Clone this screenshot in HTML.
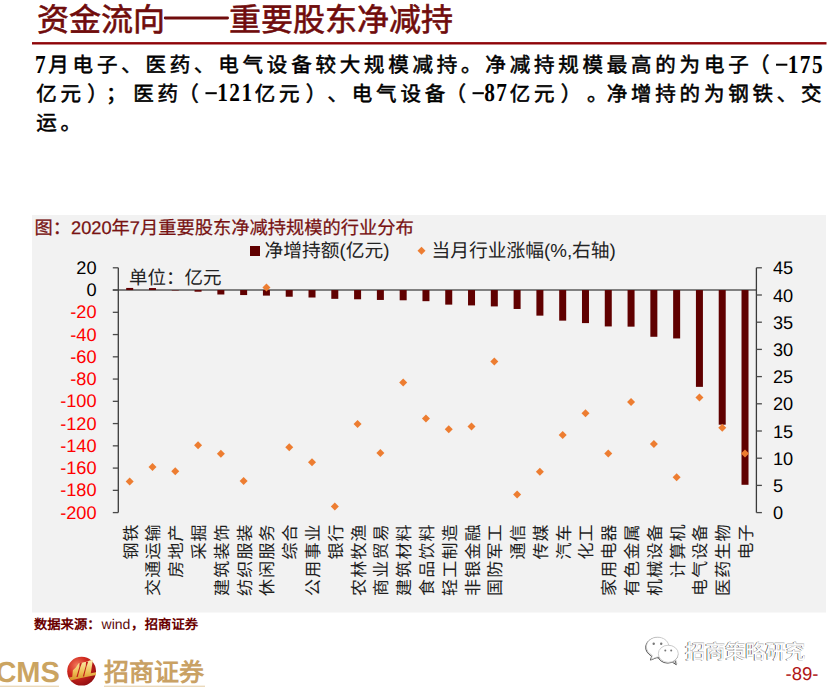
<!DOCTYPE html>
<html lang="zh-CN"><head><meta charset="utf-8">
<style>
html,body{margin:0;padding:0;background:#fff;}
body{width:831px;height:687px;overflow:hidden;position:relative;font-family:"Liberation Sans",sans-serif;}
svg{position:absolute;left:0;top:0;}

</style></head><body>
<svg width="831" height="687" viewBox="0 0 831 687" text-rendering="geometricPrecision">
<g fill="#700c0c" stroke="#700c0c" stroke-width="0.6"><text x="37" y="30.8" font-size="32">资金流向</text>
<text x="229" y="30.8" font-size="32">重要股东净减持</text></g>
<rect x="163.8" y="16.5" width="65.2" height="3" rx="1.4" fill="#700c0c"/>
<rect x="32" y="42.1" width="794.5" height="2.4" fill="#8e0508"/>
<text x="48.33 72.61 96.89 121.17 145.45 169.73 194.01 218.29 242.57 266.85 291.13 315.41 339.69 363.97 388.25 412.53 436.81 461.09 485.37 509.65 533.93 558.21 582.49 606.77 631.05 655.33 679.61 703.89 728.17 748.95" y="71.8" font-size="20.5" font-weight="normal" fill="#000" stroke="#000" stroke-width="0.55">月电子、医药、电气设备较大规模减持。净减持规模最高的为电子（</text>
<text transform="translate(35.04 72.7) scale(0.82 1)" x="0.00" y="0" font-size="26" font-weight="bold" fill="#000" font-family="Liberation Serif, serif">7</text>
<text transform="translate(787.72 72.7) scale(0.82 1)" x="0.00 14.80 29.61" y="0" font-size="26" font-weight="bold" fill="#000" font-family="Liberation Serif, serif">175</text>
<rect x="776.04" y="63.70" width="11.3" height="2" fill="#000"/>
<text x="36.19 60.47 87.25 106.03 133.31 157.59 178.37 254.71 278.99 305.77 327.55 351.83 376.11 400.39 424.67 445.45 509.65 533.93 560.71 586.99 606.77 631.05 655.33 679.61 703.89 728.17 752.45 776.73 801.01" y="101" font-size="20.5" font-weight="normal" fill="#000" stroke="#000" stroke-width="0.55">亿元）；医药（亿元）、电气设备（亿元）。净增持的为钢铁、交</text>
<text transform="translate(217.14 101.2) scale(0.82 1)" x="0.00 14.80 29.61" y="0" font-size="26" font-weight="bold" fill="#000" font-family="Liberation Serif, serif">121</text>
<text transform="translate(484.22 101.2) scale(0.82 1)" x="0.00 14.80" y="0" font-size="26" font-weight="bold" fill="#000" font-family="Liberation Serif, serif">87</text>
<rect x="205.46" y="92.20" width="11.3" height="2" fill="#000"/>
<rect x="472.54" y="92.20" width="11.3" height="2" fill="#000"/>
<text x="36.19 60.47" y="129.6" font-size="20.5" font-weight="normal" fill="#000" stroke="#000" stroke-width="0.55">运。</text>
<rect x="32" y="215" width="794" height="397.5" fill="#f2f2f2"/>
<text x="34.5" y="234.3" font-size="18.25" fill="#781212" stroke="#781212" stroke-width="0.25" font-family="Liberation Sans, sans-serif">图：2020年7月重要股东净减持规模的行业分布</text>
<rect x="250" y="246" width="10" height="10" fill="#600000"/>
<text x="264.5" y="256.5" font-size="18.75" fill="#222">净增持额(亿元)</text>
<path d="M421.5 246.8 L425.5 250.8 L421.5 254.8 L417.5 250.8Z" fill="#ed7d31"/>
<text x="431.5" y="256.5" font-size="18.75" fill="#222">当月行业涨幅(%,右轴)</text>
<text x="129" y="283.5" font-size="18.5" fill="#222">单位：亿元</text>
<line x1="112.8" y1="290.05" x2="756.4" y2="290.05" stroke="#5a5a5a" stroke-width="1.4"/>
<line x1="118.3" y1="267.80" x2="118.3" y2="512.60" stroke="#3a3a3a" stroke-width="1.3"/>
<line x1="756.4" y1="267.80" x2="756.4" y2="512.60" stroke="#3a3a3a" stroke-width="1.3"/>
<line x1="112.8" y1="267.80" x2="118.3" y2="267.80" stroke="#4a4a4a" stroke-width="1.3"/>
<text x="96.6" y="273.90" font-size="18.2" text-anchor="end" fill="#000">20</text>
<line x1="112.8" y1="290.05" x2="118.3" y2="290.05" stroke="#4a4a4a" stroke-width="1.3"/>
<text x="96.6" y="296.15" font-size="18.2" text-anchor="end" fill="#000">0</text>
<line x1="112.8" y1="312.31" x2="118.3" y2="312.31" stroke="#4a4a4a" stroke-width="1.3"/>
<text x="96.6" y="318.41" font-size="18.2" text-anchor="end" fill="#ff0000">-20</text>
<line x1="112.8" y1="334.56" x2="118.3" y2="334.56" stroke="#4a4a4a" stroke-width="1.3"/>
<text x="96.6" y="340.66" font-size="18.2" text-anchor="end" fill="#ff0000">-40</text>
<line x1="112.8" y1="356.82" x2="118.3" y2="356.82" stroke="#4a4a4a" stroke-width="1.3"/>
<text x="96.6" y="362.92" font-size="18.2" text-anchor="end" fill="#ff0000">-60</text>
<line x1="112.8" y1="379.07" x2="118.3" y2="379.07" stroke="#4a4a4a" stroke-width="1.3"/>
<text x="96.6" y="385.17" font-size="18.2" text-anchor="end" fill="#ff0000">-80</text>
<line x1="112.8" y1="401.33" x2="118.3" y2="401.33" stroke="#4a4a4a" stroke-width="1.3"/>
<text x="96.6" y="407.43" font-size="18.2" text-anchor="end" fill="#ff0000">-100</text>
<line x1="112.8" y1="423.58" x2="118.3" y2="423.58" stroke="#4a4a4a" stroke-width="1.3"/>
<text x="96.6" y="429.68" font-size="18.2" text-anchor="end" fill="#ff0000">-120</text>
<line x1="112.8" y1="445.84" x2="118.3" y2="445.84" stroke="#4a4a4a" stroke-width="1.3"/>
<text x="96.6" y="451.94" font-size="18.2" text-anchor="end" fill="#ff0000">-140</text>
<line x1="112.8" y1="468.09" x2="118.3" y2="468.09" stroke="#4a4a4a" stroke-width="1.3"/>
<text x="96.6" y="474.19" font-size="18.2" text-anchor="end" fill="#ff0000">-160</text>
<line x1="112.8" y1="490.35" x2="118.3" y2="490.35" stroke="#4a4a4a" stroke-width="1.3"/>
<text x="96.6" y="496.45" font-size="18.2" text-anchor="end" fill="#ff0000">-180</text>
<line x1="112.8" y1="512.60" x2="118.3" y2="512.60" stroke="#4a4a4a" stroke-width="1.3"/>
<text x="96.6" y="518.70" font-size="18.2" text-anchor="end" fill="#ff0000">-200</text>
<line x1="756.4" y1="267.80" x2="761.9" y2="267.80" stroke="#4a4a4a" stroke-width="1.3"/>
<text x="773" y="274.30" font-size="18.2" fill="#000">45</text>
<line x1="756.4" y1="295.00" x2="761.9" y2="295.00" stroke="#4a4a4a" stroke-width="1.3"/>
<text x="773" y="301.50" font-size="18.2" fill="#000">40</text>
<line x1="756.4" y1="322.20" x2="761.9" y2="322.20" stroke="#4a4a4a" stroke-width="1.3"/>
<text x="773" y="328.70" font-size="18.2" fill="#000">35</text>
<line x1="756.4" y1="349.40" x2="761.9" y2="349.40" stroke="#4a4a4a" stroke-width="1.3"/>
<text x="773" y="355.90" font-size="18.2" fill="#000">30</text>
<line x1="756.4" y1="376.60" x2="761.9" y2="376.60" stroke="#4a4a4a" stroke-width="1.3"/>
<text x="773" y="383.10" font-size="18.2" fill="#000">25</text>
<line x1="756.4" y1="403.80" x2="761.9" y2="403.80" stroke="#4a4a4a" stroke-width="1.3"/>
<text x="773" y="410.30" font-size="18.2" fill="#000">20</text>
<line x1="756.4" y1="431.00" x2="761.9" y2="431.00" stroke="#4a4a4a" stroke-width="1.3"/>
<text x="773" y="437.50" font-size="18.2" fill="#000">15</text>
<line x1="756.4" y1="458.20" x2="761.9" y2="458.20" stroke="#4a4a4a" stroke-width="1.3"/>
<text x="773" y="464.70" font-size="18.2" fill="#000">10</text>
<line x1="756.4" y1="485.40" x2="761.9" y2="485.40" stroke="#4a4a4a" stroke-width="1.3"/>
<text x="773" y="491.90" font-size="18.2" fill="#000">5</text>
<line x1="756.4" y1="512.60" x2="761.9" y2="512.60" stroke="#4a4a4a" stroke-width="1.3"/>
<text x="773" y="519.10" font-size="18.2" fill="#000">0</text>
<rect x="126.19" y="287.94" width="7.0" height="2.11" fill="#600000"/>
<rect x="148.98" y="288.05" width="7.0" height="2.00" fill="#600000"/>
<rect x="171.77" y="290.05" width="7.0" height="0.45" fill="#600000"/>
<rect x="194.56" y="290.05" width="7.0" height="1.67" fill="#600000"/>
<rect x="217.35" y="290.05" width="7.0" height="4.45" fill="#600000"/>
<rect x="240.14" y="290.05" width="7.0" height="5.01" fill="#600000"/>
<rect x="262.93" y="290.05" width="7.0" height="5.56" fill="#600000"/>
<rect x="285.72" y="290.05" width="7.0" height="6.68" fill="#600000"/>
<rect x="308.51" y="290.05" width="7.0" height="7.46" fill="#600000"/>
<rect x="331.30" y="290.05" width="7.0" height="8.79" fill="#600000"/>
<rect x="354.09" y="290.05" width="7.0" height="9.24" fill="#600000"/>
<rect x="376.88" y="290.05" width="7.0" height="9.90" fill="#600000"/>
<rect x="399.67" y="290.05" width="7.0" height="10.24" fill="#600000"/>
<rect x="422.46" y="290.05" width="7.0" height="11.13" fill="#600000"/>
<rect x="445.24" y="290.05" width="7.0" height="14.58" fill="#600000"/>
<rect x="468.03" y="290.05" width="7.0" height="15.36" fill="#600000"/>
<rect x="490.82" y="290.05" width="7.0" height="16.36" fill="#600000"/>
<rect x="513.61" y="290.05" width="7.0" height="18.92" fill="#600000"/>
<rect x="536.40" y="290.05" width="7.0" height="25.59" fill="#600000"/>
<rect x="559.19" y="290.05" width="7.0" height="30.60" fill="#600000"/>
<rect x="581.98" y="290.05" width="7.0" height="33.05" fill="#600000"/>
<rect x="604.77" y="290.05" width="7.0" height="36.39" fill="#600000"/>
<rect x="627.56" y="290.05" width="7.0" height="36.61" fill="#600000"/>
<rect x="650.35" y="290.05" width="7.0" height="46.73" fill="#600000"/>
<rect x="673.14" y="290.05" width="7.0" height="48.40" fill="#600000"/>
<rect x="695.93" y="290.05" width="7.0" height="96.81" fill="#600000"/>
<rect x="718.72" y="290.05" width="7.0" height="134.64" fill="#600000"/>
<rect x="741.51" y="290.05" width="7.0" height="194.73" fill="#600000"/>
<path d="M129.69 477.60 L133.69 481.60 L129.69 485.60 L125.69 481.60Z" fill="#ed7d31"/>
<path d="M152.48 463.00 L156.48 467.00 L152.48 471.00 L148.48 467.00Z" fill="#ed7d31"/>
<path d="M175.27 467.20 L179.27 471.20 L175.27 475.20 L171.27 471.20Z" fill="#ed7d31"/>
<path d="M198.06 441.20 L202.06 445.20 L198.06 449.20 L194.06 445.20Z" fill="#ed7d31"/>
<path d="M220.85 449.70 L224.85 453.70 L220.85 457.70 L216.85 453.70Z" fill="#ed7d31"/>
<path d="M243.64 477.00 L247.64 481.00 L243.64 485.00 L239.64 481.00Z" fill="#ed7d31"/>
<path d="M266.43 283.50 L270.43 287.50 L266.43 291.50 L262.43 287.50Z" fill="#ed7d31"/>
<path d="M289.22 443.20 L293.22 447.20 L289.22 451.20 L285.22 447.20Z" fill="#ed7d31"/>
<path d="M312.01 458.20 L316.01 462.20 L312.01 466.20 L308.01 462.20Z" fill="#ed7d31"/>
<path d="M334.80 502.50 L338.80 506.50 L334.80 510.50 L330.80 506.50Z" fill="#ed7d31"/>
<path d="M357.59 420.10 L361.59 424.10 L357.59 428.10 L353.59 424.10Z" fill="#ed7d31"/>
<path d="M380.38 448.90 L384.38 452.90 L380.38 456.90 L376.38 452.90Z" fill="#ed7d31"/>
<path d="M403.17 378.40 L407.17 382.40 L403.17 386.40 L399.17 382.40Z" fill="#ed7d31"/>
<path d="M425.96 414.50 L429.96 418.50 L425.96 422.50 L421.96 418.50Z" fill="#ed7d31"/>
<path d="M448.74 425.20 L452.74 429.20 L448.74 433.20 L444.74 429.20Z" fill="#ed7d31"/>
<path d="M471.53 422.40 L475.53 426.40 L471.53 430.40 L467.53 426.40Z" fill="#ed7d31"/>
<path d="M494.32 357.40 L498.32 361.40 L494.32 365.40 L490.32 361.40Z" fill="#ed7d31"/>
<path d="M517.11 490.40 L521.11 494.40 L517.11 498.40 L513.11 494.40Z" fill="#ed7d31"/>
<path d="M539.90 467.80 L543.90 471.80 L539.90 475.80 L535.90 471.80Z" fill="#ed7d31"/>
<path d="M562.69 431.10 L566.69 435.10 L562.69 439.10 L558.69 435.10Z" fill="#ed7d31"/>
<path d="M585.48 409.30 L589.48 413.30 L585.48 417.30 L581.48 413.30Z" fill="#ed7d31"/>
<path d="M608.27 449.40 L612.27 453.40 L608.27 457.40 L604.27 453.40Z" fill="#ed7d31"/>
<path d="M631.06 398.00 L635.06 402.00 L631.06 406.00 L627.06 402.00Z" fill="#ed7d31"/>
<path d="M653.85 439.90 L657.85 443.90 L653.85 447.90 L649.85 443.90Z" fill="#ed7d31"/>
<path d="M676.64 473.20 L680.64 477.20 L676.64 481.20 L672.64 477.20Z" fill="#ed7d31"/>
<path d="M699.43 393.50 L703.43 397.50 L699.43 401.50 L695.43 397.50Z" fill="#ed7d31"/>
<path d="M722.22 423.70 L726.22 427.70 L722.22 431.70 L718.22 427.70Z" fill="#ed7d31"/>
<path d="M745.01 449.60 L749.01 453.60 L745.01 457.60 L741.01 453.60Z" fill="#ed7d31"/>
<text transform="translate(131.19 523.2) rotate(-90)" text-anchor="end" dominant-baseline="central" font-size="17" letter-spacing="1.2" fill="#1e1e1e">钢铁</text>
<text transform="translate(153.98 523.2) rotate(-90)" text-anchor="end" dominant-baseline="central" font-size="17" letter-spacing="1.2" fill="#1e1e1e">交通运输</text>
<text transform="translate(176.77 523.2) rotate(-90)" text-anchor="end" dominant-baseline="central" font-size="17" letter-spacing="1.2" fill="#1e1e1e">房地产</text>
<text transform="translate(199.56 523.2) rotate(-90)" text-anchor="end" dominant-baseline="central" font-size="17" letter-spacing="1.2" fill="#1e1e1e">采掘</text>
<text transform="translate(222.35 523.2) rotate(-90)" text-anchor="end" dominant-baseline="central" font-size="17" letter-spacing="1.2" fill="#1e1e1e">建筑装饰</text>
<text transform="translate(245.14 523.2) rotate(-90)" text-anchor="end" dominant-baseline="central" font-size="17" letter-spacing="1.2" fill="#1e1e1e">纺织服装</text>
<text transform="translate(267.93 523.2) rotate(-90)" text-anchor="end" dominant-baseline="central" font-size="17" letter-spacing="1.2" fill="#1e1e1e">休闲服务</text>
<text transform="translate(290.72 523.2) rotate(-90)" text-anchor="end" dominant-baseline="central" font-size="17" letter-spacing="1.2" fill="#1e1e1e">综合</text>
<text transform="translate(313.51 523.2) rotate(-90)" text-anchor="end" dominant-baseline="central" font-size="17" letter-spacing="1.2" fill="#1e1e1e">公用事业</text>
<text transform="translate(336.30 523.2) rotate(-90)" text-anchor="end" dominant-baseline="central" font-size="17" letter-spacing="1.2" fill="#1e1e1e">银行</text>
<text transform="translate(359.09 523.2) rotate(-90)" text-anchor="end" dominant-baseline="central" font-size="17" letter-spacing="1.2" fill="#1e1e1e">农林牧渔</text>
<text transform="translate(381.88 523.2) rotate(-90)" text-anchor="end" dominant-baseline="central" font-size="17" letter-spacing="1.2" fill="#1e1e1e">商业贸易</text>
<text transform="translate(404.67 523.2) rotate(-90)" text-anchor="end" dominant-baseline="central" font-size="17" letter-spacing="1.2" fill="#1e1e1e">建筑材料</text>
<text transform="translate(427.46 523.2) rotate(-90)" text-anchor="end" dominant-baseline="central" font-size="17" letter-spacing="1.2" fill="#1e1e1e">食品饮料</text>
<text transform="translate(450.24 523.2) rotate(-90)" text-anchor="end" dominant-baseline="central" font-size="17" letter-spacing="1.2" fill="#1e1e1e">轻工制造</text>
<text transform="translate(473.03 523.2) rotate(-90)" text-anchor="end" dominant-baseline="central" font-size="17" letter-spacing="1.2" fill="#1e1e1e">非银金融</text>
<text transform="translate(495.82 523.2) rotate(-90)" text-anchor="end" dominant-baseline="central" font-size="17" letter-spacing="1.2" fill="#1e1e1e">国防军工</text>
<text transform="translate(518.61 523.2) rotate(-90)" text-anchor="end" dominant-baseline="central" font-size="17" letter-spacing="1.2" fill="#1e1e1e">通信</text>
<text transform="translate(541.40 523.2) rotate(-90)" text-anchor="end" dominant-baseline="central" font-size="17" letter-spacing="1.2" fill="#1e1e1e">传媒</text>
<text transform="translate(564.19 523.2) rotate(-90)" text-anchor="end" dominant-baseline="central" font-size="17" letter-spacing="1.2" fill="#1e1e1e">汽车</text>
<text transform="translate(586.98 523.2) rotate(-90)" text-anchor="end" dominant-baseline="central" font-size="17" letter-spacing="1.2" fill="#1e1e1e">化工</text>
<text transform="translate(609.77 523.2) rotate(-90)" text-anchor="end" dominant-baseline="central" font-size="17" letter-spacing="1.2" fill="#1e1e1e">家用电器</text>
<text transform="translate(632.56 523.2) rotate(-90)" text-anchor="end" dominant-baseline="central" font-size="17" letter-spacing="1.2" fill="#1e1e1e">有色金属</text>
<text transform="translate(655.35 523.2) rotate(-90)" text-anchor="end" dominant-baseline="central" font-size="17" letter-spacing="1.2" fill="#1e1e1e">机械设备</text>
<text transform="translate(678.14 523.2) rotate(-90)" text-anchor="end" dominant-baseline="central" font-size="17" letter-spacing="1.2" fill="#1e1e1e">计算机</text>
<text transform="translate(700.93 523.2) rotate(-90)" text-anchor="end" dominant-baseline="central" font-size="17" letter-spacing="1.2" fill="#1e1e1e">电气设备</text>
<text transform="translate(723.72 523.2) rotate(-90)" text-anchor="end" dominant-baseline="central" font-size="17" letter-spacing="1.2" fill="#1e1e1e">医药生物</text>
<text transform="translate(746.51 523.2) rotate(-90)" text-anchor="end" dominant-baseline="central" font-size="17" letter-spacing="1.2" fill="#1e1e1e">电子</text>
<g fill="#6a0000" font-weight="bold" font-size="13.3"><text x="34" y="628.6">数据来源：</text><text x="131" y="628.6">，</text><text x="144.8" y="628.6">招商证券</text></g>
<text x="101.6" y="628.6" font-size="14" fill="#5a0a0a">wind</text>
<!-- logo -->
<text x="-4.6" y="681.6" font-size="29" font-weight="bold" fill="#cba461">CMS</text>
<rect x="0" y="685.6" width="59" height="1.4" fill="#ead9bb"/>
<rect x="104" y="685.6" width="101" height="1.4" fill="#ead9bb"/>
<defs>
<radialGradient id="lg" cx="0.35" cy="0.3" r="0.8"><stop offset="0" stop-color="#f27a5c"/><stop offset="0.45" stop-color="#d0281e"/><stop offset="1" stop-color="#8a0a10"/></radialGradient>
<linearGradient id="gg" gradientUnits="userSpaceOnUse" x1="0" y1="660" x2="0" y2="680"><stop offset="0" stop-color="#fcefb0"/><stop offset="0.6" stop-color="#eebf55"/><stop offset="1" stop-color="#d8922a"/></linearGradient>
</defs>
<circle cx="81.6" cy="671.2" r="14.4" fill="url(#lg)"/>
<g fill="url(#gg)">
<path d="M72.2 677.2 L72.9 670.2 L75.8 667.6 L78.7 663.2 L81.4 663.1 L83.8 662.3 L86.4 661.8 L89.6 660.6 L92.9 659.9 L90.4 675.6 Z"/>
<path d="M69.2 677.4 Q82 675.4 96 672.3 L95.9 675.1 Q83 677.6 70.7 680.4 Z"/>
</g>
<g fill="#c41e1a"><path d="M76.4 677 L77.7 677 L80.2 667.6 L81.9 662.9 L79.6 663.2 L79.4 666.8 Z"/><path d="M82.8 676.5 L84.1 676.5 L86.5 666.4 L88.3 661.4 L86 661.9 L85.8 665.8 Z"/></g>
<text x="104" y="680.6" font-size="25" font-weight="bold" fill="#c9a164">招商证券</text>
<!-- watermark -->
<g transform="translate(-0.7 0.7)" fill="none" stroke="#3a3a3a" stroke-width="0.9">
<path d="M663 656.5 C661 657 659 657.2 657 657.1 L651.2 659.4 L652.3 655.4 C648.6 653.3 646.4 650.2 646.4 646.8 C646.4 641.4 651.3 637.2 657.6 637.2 C663.2 637.2 667.9 640.6 668.7 645.2"/>
<ellipse cx="668.3" cy="653.8" rx="10" ry="8.6"/>
<path d="M673.2 661.6 L677 664 L675.8 659.9"/>
</g>
<g fill="#fff" stroke="#b8b8b8" stroke-width="0.7">
<path d="M663 656.5 C661 657 659 657.2 657 657.1 L651.2 659.4 L652.3 655.4 C648.6 653.3 646.4 650.2 646.4 646.8 C646.4 641.4 651.3 637.2 657.6 637.2 C663.2 637.2 667.9 640.6 668.7 645.2"/>
<ellipse cx="668.3" cy="653.8" rx="10" ry="8.6"/>
<path d="M673.2 661.6 L677 664 L675.8 659.9" fill="none"/>
</g>
<g fill="#777"><circle cx="653.7" cy="643.7" r="1.2"/><circle cx="661.2" cy="643.7" r="1.2"/><circle cx="665.3" cy="650.4" r="1"/><circle cx="671.2" cy="650.4" r="1"/></g>
<text x="684.2" y="659.3" font-size="20" fill="#3a3a3a">招商策略研究</text>
<text x="685.4" y="658.1" font-size="20" fill="#c8c8c8">招商策略研究</text>
<text x="685" y="658.5" font-size="20" fill="#fff">招商策略研究</text>
<text x="785.5" y="679.5" font-size="18.5" fill="#b01515">-89-</text>
</svg>
</body></html>
